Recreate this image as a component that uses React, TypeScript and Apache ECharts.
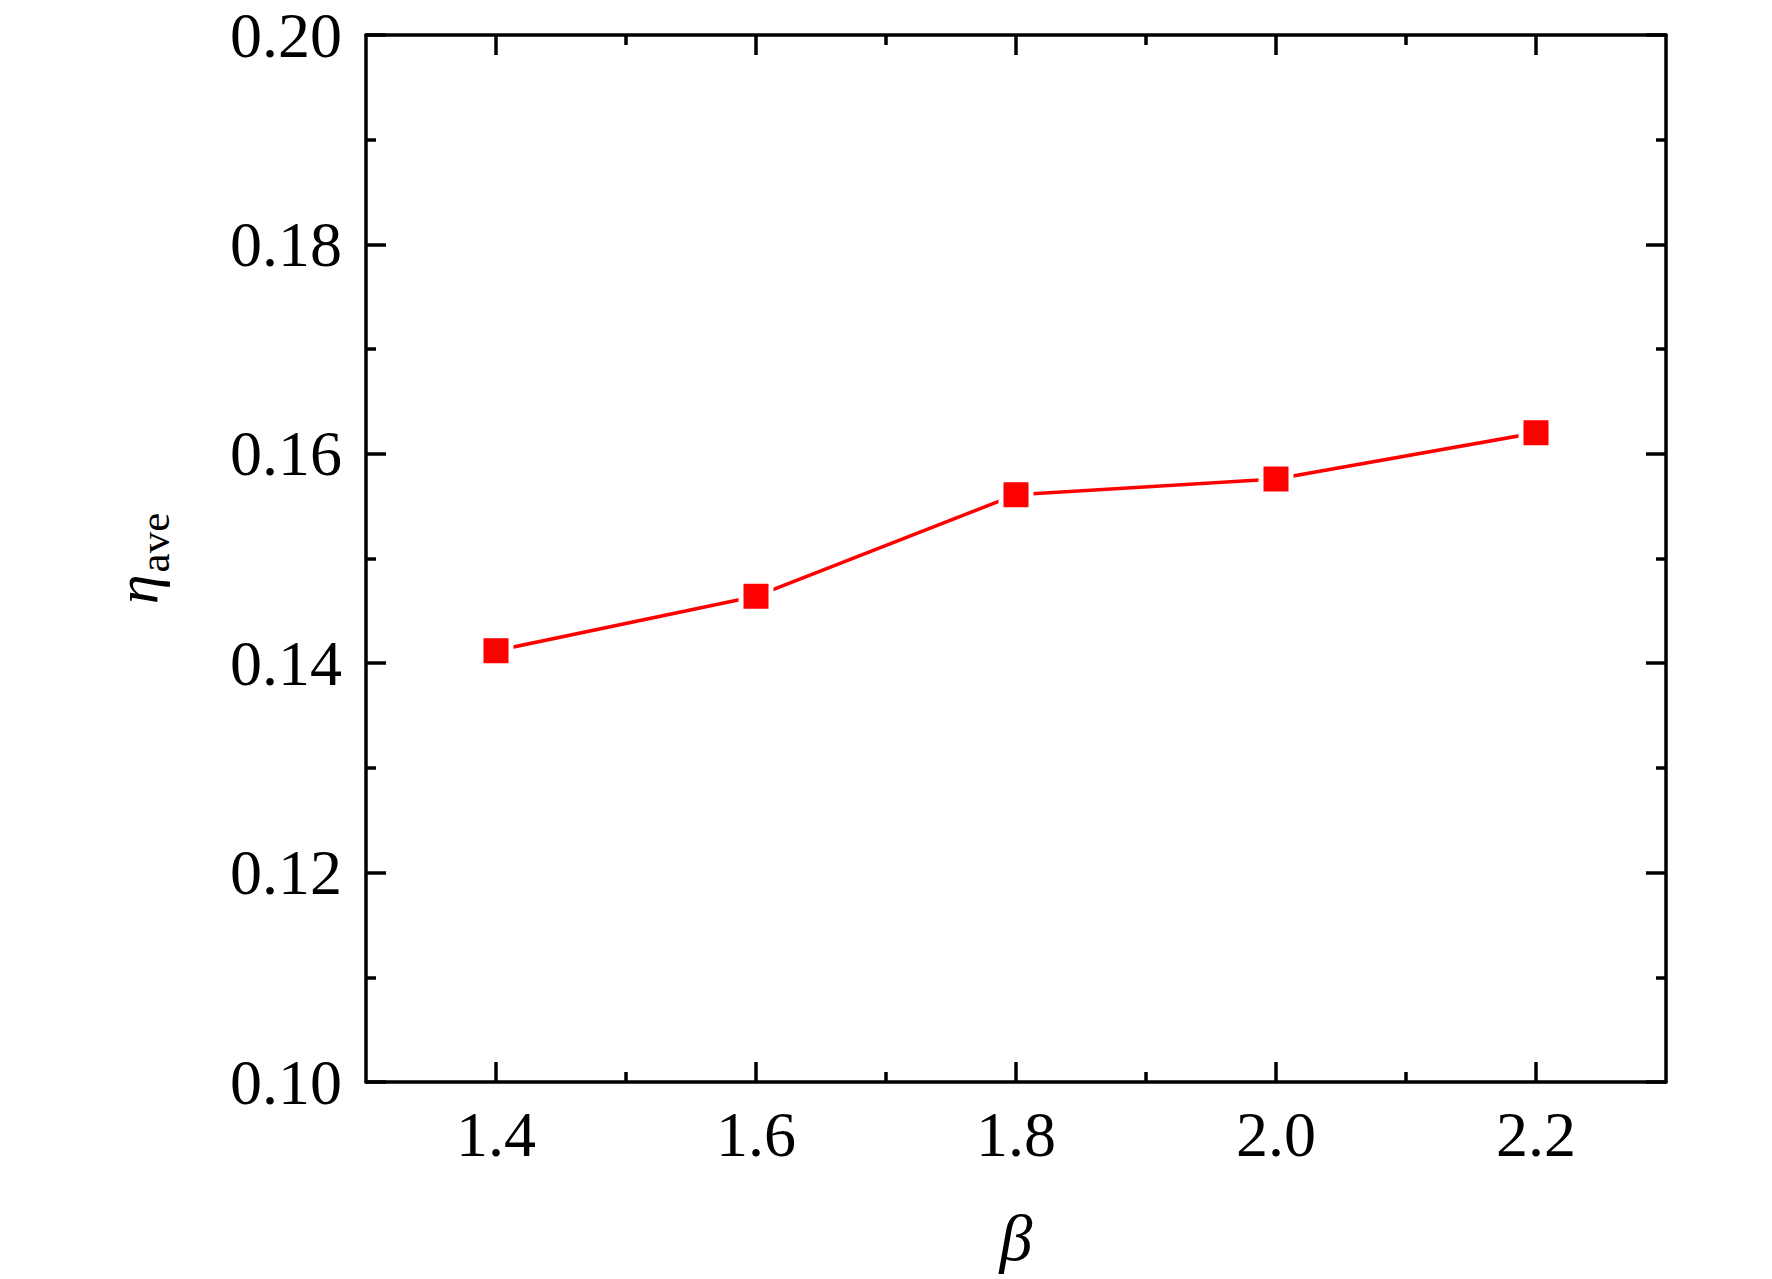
import React, { useEffect, useRef } from "react";
import * as echarts from "echarts";

const betaValues = [1.4, 1.6, 1.8, 2.0, 2.2];
const etaAve = [0.1412, 0.1464, 0.1561, 0.1576, 0.162];
const xMajorTicks = [1.4, 1.6, 1.8, 2.0, 2.2];
const xMinorTicks = [1.5, 1.7, 1.9, 2.1];

const FONT = "'Liberation Serif', 'Times New Roman', serif";
const AXIS_W = 3.5;

export default function App() {
  const ref = useRef<HTMLDivElement>(null);
  useEffect(() => {
    if (!ref.current) return;
    const chart = echarts.init(ref.current, null, { renderer: "svg" });
    const lineStyle = { color: "#000", width: AXIS_W };
    const xBase = { type: "value", min: 1.3, max: 2.3, interval: 0.1, splitLine: { show: false } };
    const option: any = {
      animation: false,
      backgroundColor: "#fff",
      grid: { left: 366, right: 106, top: 35, bottom: 197 },
      xAxis: [
        {
          ...xBase,
          position: "bottom",
          axisLine: { show: true, lineStyle },
          axisTick: { show: true, inside: true, length: 20, lineStyle, customValues: xMajorTicks },
          axisLabel: {
            show: true,
            customValues: xMajorTicks,
            formatter: (v: number) => v.toFixed(1),
            fontSize: 64,
            fontFamily: FONT,
            color: "#000",
            margin: 20,
          },
          name: "β",
          nameLocation: "middle",
          nameGap: 122,
          nameTextStyle: { fontSize: 66, fontFamily: FONT, fontStyle: "italic", color: "#000" },
        },
        {
          ...xBase,
          position: "bottom",
          axisLine: { show: false },
          axisTick: { show: true, inside: true, length: 10, lineStyle, customValues: xMinorTicks },
          axisLabel: { show: false },
        },
        {
          ...xBase,
          position: "top",
          axisLine: { show: true, lineStyle },
          axisTick: { show: true, inside: true, length: 20, lineStyle, customValues: xMajorTicks },
          axisLabel: { show: false },
        },
        {
          ...xBase,
          position: "top",
          axisLine: { show: false },
          axisTick: { show: true, inside: true, length: 10, lineStyle, customValues: xMinorTicks },
          axisLabel: { show: false },
        },
      ],
      yAxis: [
        {
          type: "value",
          position: "left",
          min: 0.1,
          max: 0.2,
          interval: 0.02,
          splitLine: { show: false },
          axisLine: { show: true, lineStyle },
          axisTick: { show: true, inside: true, length: 20, lineStyle },
          minorTick: { show: true, splitNumber: 2, length: 10, lineStyle },
          minorSplitLine: { show: false },
          axisLabel: {
            formatter: (v: number) => v.toFixed(2),
            fontSize: 64,
            fontFamily: FONT,
            color: "#000",
            margin: 24,
          },
          name: "{a|η}{b|ave}",
          nameLocation: "middle",
          nameRotate: 90,
          nameGap: 190,
          nameTextStyle: {
            fontFamily: FONT,
            color: "#000",
            rich: {
              a: { fontSize: 60, fontStyle: "italic", fontFamily: FONT, color: "#000" },
              b: { fontSize: 43, fontFamily: FONT, color: "#000", padding: [36, 0, 0, 2] },
            },
          },
        },
        {
          type: "value",
          position: "right",
          min: 0.1,
          max: 0.2,
          interval: 0.02,
          splitLine: { show: false },
          axisLine: { show: true, lineStyle },
          axisTick: { show: true, inside: true, length: 20, lineStyle },
          minorTick: { show: true, splitNumber: 2, length: 10, lineStyle },
          minorSplitLine: { show: false },
          axisLabel: { show: false },
        },
      ],
      series: [
        {
          type: "line",
          xAxisIndex: 0,
          yAxisIndex: 0,
          data: betaValues.map((b, i) => [b, etaAve[i]]),
          symbol: "rect",
          symbolSize: 30,
          itemStyle: { color: "#ff0000", borderColor: "#fff", borderWidth: 5 },
          lineStyle: { color: "#ff0000", width: 3.5 },
          z: 5,
        },
      ],
    };
    chart.setOption(option);
    return () => chart.dispose();
  }, []);
  return (
    <div
      ref={ref}
      style={{ position: "fixed", left: 0, top: 0, width: 1772, height: 1279, background: "#fff" }}
    />
  );
}
